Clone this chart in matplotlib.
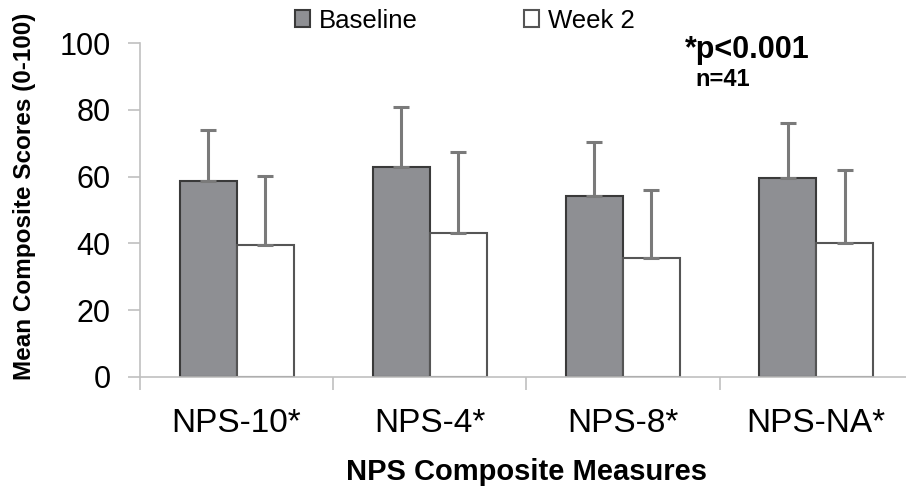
import numpy as np
import matplotlib
matplotlib.use("Agg")
import matplotlib.pyplot as plt

categories = ["NPS-10*", "NPS-4*", "NPS-8*", "NPS-NA*"]
baseline = [58.7, 63.0, 54.2, 59.7]
baseline_sd = [15.3, 17.7, 16.2, 16.3]
week2 = [39.5, 43.2, 35.5, 40.0]
week2_sd = [20.7, 24.2, 20.6, 21.9]

plt.rcParams['font.family'] = ['Liberation Sans', 'DejaVu Sans']

fig = plt.figure(figsize=(9.06, 4.91), dpi=100)
ax = fig.add_axes([0.1545, 0.2322, 0.853, 0.6802])

x = np.arange(len(categories))
w = 0.295
err_kw = dict(ecolor='#7a7a7a', elinewidth=2.2, capsize=6, capthick=2.2)
b1 = ax.bar(x - w / 2, baseline, w, color='#8e8f93', edgecolor='#3a3a3a',
            linewidth=1.5, yerr=[np.zeros(4), baseline_sd], error_kw=err_kw,
            label='Baseline', zorder=2)
b2 = ax.bar(x + w / 2, week2, w, color='white', edgecolor='#555555',
            linewidth=1.5, yerr=[np.zeros(4), week2_sd], error_kw=err_kw,
            label='Week 2', zorder=2)

ax.set_xlim(-0.5, 3.5)
ax.set_ylim(0, 100)
ax.set_yticks([0, 20, 40, 60, 80, 100])
ax.set_xticks(x)
ax.set_xticklabels(categories, fontsize=24)
ax.set_xticks(np.arange(-0.5, 4, 1), minor=True)
ax.tick_params(axis='x', which='major', length=0, pad=22)
ax.tick_params(axis='x', which='minor', length=9, width=1.2, color='#c0c0c0',
               direction='out')
ax.tick_params(axis='y', length=9, width=1.2, color='#c0c0c0', pad=12,
               labelsize=22)

for s in ['top', 'right']:
    ax.spines[s].set_visible(False)
for s in ['left', 'bottom']:
    ax.spines[s].set_color('#c0c0c0')
    ax.spines[s].set_linewidth(1.2)

ax.set_xlabel('NPS Composite Measures', fontsize=21, fontweight='bold',
              labelpad=14)
fig.text(0.027, 0.60, 'Mean Composite Scores (0-100)', rotation=90,
         fontsize=17.5, fontweight='bold', ha='center', va='center')

fig.legend(handles=[b1, b2], loc='center', bbox_to_anchor=(0.513, 0.958),
           ncol=2, frameon=False, fontsize=18.5, handlelength=0.6,
           handleheight=0.6, handletextpad=0.35, columnspacing=4.1)

fig.text(0.756, 0.898, '*p<0.001', fontsize=22, fontweight='bold',
         ha='left', va='center')
fig.text(0.767, 0.839, 'n=41', fontsize=17, fontweight='bold',
         ha='left', va='center')

fig.savefig('out.png', dpi=100)
